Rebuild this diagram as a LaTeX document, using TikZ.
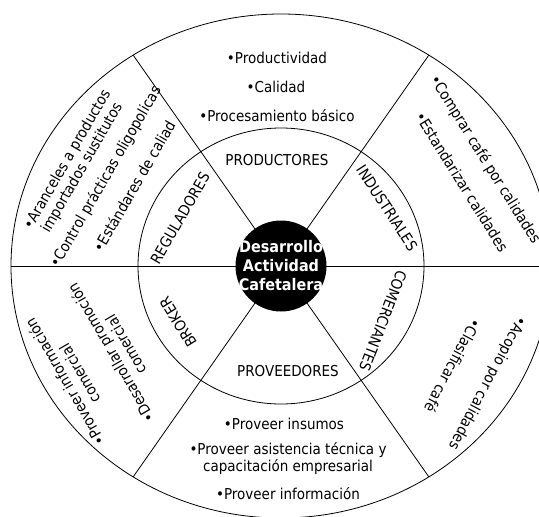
\documentclass[tikz,border=0pt]{standalone}
\usepackage{fontspec}
\setmainfont{DejaVu Sans Condensed}
\usetikzlibrary{calc}

\begin{document}
\begin{tikzpicture}[x=1pt, y=-1pt, line width=0.8pt,
    txt/.style={font=\fontsize{15}{17}\selectfont, align=center, inner sep=0pt},
    cen/.style={font=\bfseries\fontsize{16}{19}\selectfont, text=white, align=center, inner sep=0pt}]
      \useasboundingbox (0,0) rectangle (539,517);
      \clip (0,0) rectangle (539,517);

      \coordinate (c) at (281,266);
      \foreach \t/\n in {0/a0, 56.8/a1, 123.2/a2, 180/a3, 236.8/a4, 303.2/a5}
        \coordinate (\n) at ($(c)+(\t:270pt and 252pt)$);

      \draw (c) ellipse [x radius=270pt, y radius=252pt];
      \draw (c) ellipse [x radius=143pt, y radius=138pt];
      \draw (a0) -- (a3);
      \draw (a1) -- (a4);
      \draw (a2) -- (a5);
      \fill (c) circle (45.5pt);
      \node [cen] (centro) at (c) {Desarrollo\\Actividad\\Cafetalera};

      \node [txt] (prod) at (277,58) {•Productividad};
      \node [txt] (cal) at (276,87) {•Calidad};
      \node [txt] (proc) at (277,116) {•Procesamiento básico};
      \node [txt] (productores) at (277,160) {PRODUCTORES};

      \node [txt] (proveedores) at (288,371) {PROVEEDORES};
      \node [txt] (insumos) at (284,424) {•Proveer insumos};
      \node [txt] (asist) at (288,459) {•Proveer asistencia técnica y\\capacitación empresarial};
      \node [txt] (info) at (288,494) {•Proveer información};

      \node [txt, rotate=60] (aranceles) at (75,164) {•Aranceles a productos\\importados sustitutos};
      \node [txt, rotate=60] (control) at (106,177) {•Control prácticas oligopolicas};
      \node [txt, rotate=60] (estandares) at (134,186) {•Estándares de caliad};
      \node [txt, rotate=60] (reguladores) at (180,218) {REGULADORES};

      \node [txt, rotate=-58] (comprar) at (485,160) {•Comprar café por calidades};
      \node [txt, rotate=-58] (estandarizar) at (462,182) {•Estandarizar calidades};
      \node [txt, rotate=-57] (industriales) at (387,208) {INDUSTRIALES};

      \node [txt, rotate=120] (proveerinfo) at (72,378) {•Proveer información\\comercial};
      \node [txt, rotate=120] (desarrollar) at (118,349) {•Desarrollar promoción\\comercial};
      \node [txt, rotate=122] (broker) at (178,322) {BROKER};

      \node [txt, rotate=-118] (acopio) at (487,383) {•Acopio por calidades};
      \node [txt, rotate=-118] (clasificar) at (453,366) {•Clasificar café};
      \node [txt, rotate=-111] (comerciantes) at (383,321) {COMERCIANTES};
    \end{tikzpicture}
\end{document}
